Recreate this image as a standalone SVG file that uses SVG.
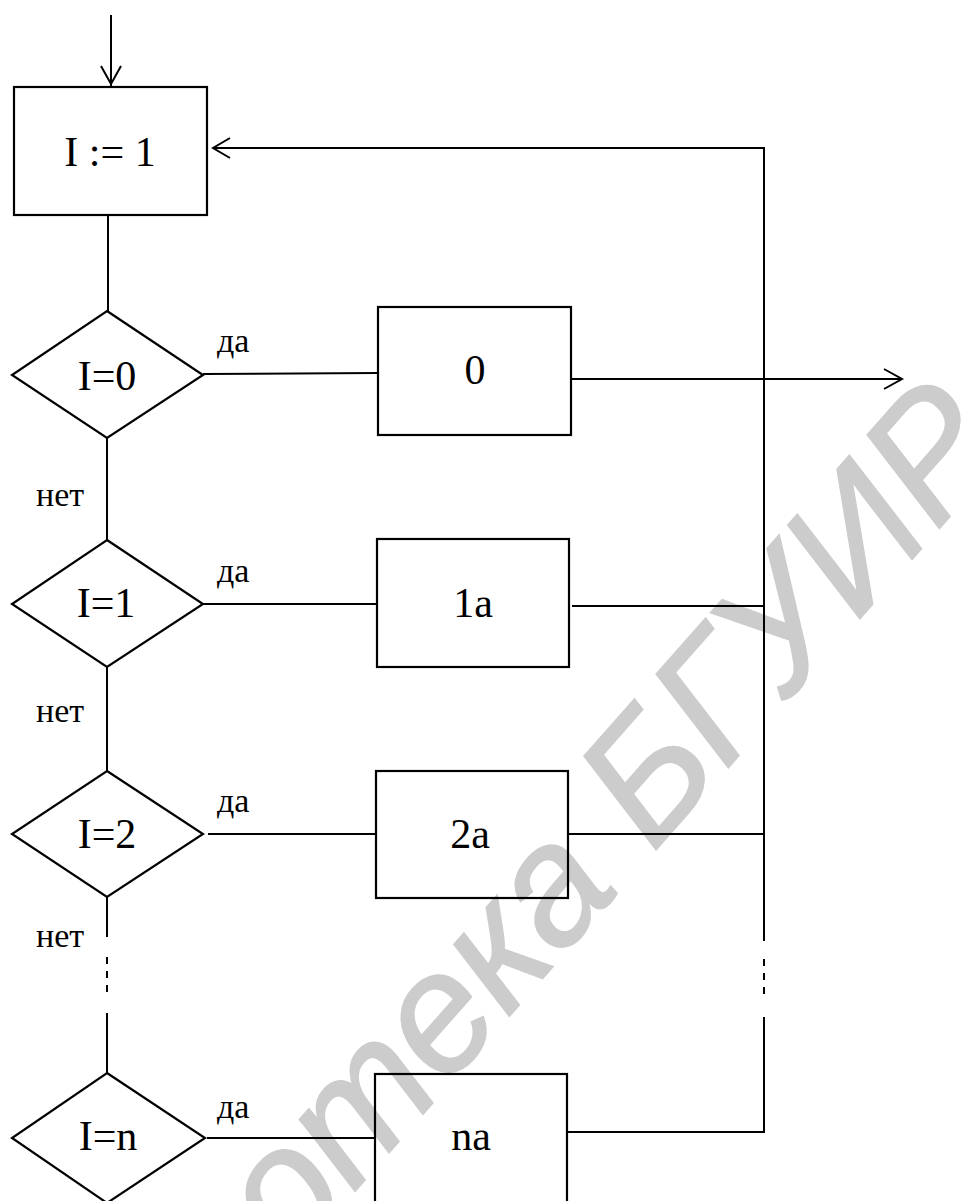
<svg xmlns="http://www.w3.org/2000/svg" width="971" height="1201" viewBox="0 0 971 1201">
<style>
.box{fill:none;stroke:#000;stroke-width:2.2}
.ln{fill:none;stroke:#000;stroke-width:2}
.lbl{font-size:42px;fill:#000;text-anchor:middle}
.sm{font-size:34px;fill:#000}
.wm{font-size:168px;fill:#cccccc;stroke:#cccccc;stroke-width:2;text-anchor:end}
</style>
<rect width="971" height="1201" fill="#fff"/>
<text class="wm" font-family="Liberation Sans, Arial, sans-serif" font-style="italic" transform="translate(1010,448) rotate(-48.6)">Библиотека БГУИР</text>
<g id="connectors">
<line class="ln" x1="111" y1="15" x2="111" y2="86"/>
<polyline class="ln" points="101,66 111,84 121,66"/>
<line class="ln" x1="108" y1="215" x2="108" y2="311"/>
<line class="ln" x1="203" y1="374" x2="378" y2="373"/>
<line class="ln" x1="571" y1="379" x2="902" y2="379"/>
<polyline class="ln" points="884,369 902,379 884,389"/>
<line class="ln" x1="107" y1="438" x2="107" y2="540"/>
<line class="ln" x1="203" y1="604" x2="377" y2="604"/>
<line class="ln" x1="572" y1="606" x2="764" y2="606"/>
<line class="ln" x1="107" y1="667" x2="107" y2="771"/>
<line class="ln" x1="208" y1="834" x2="376" y2="834"/>
<line class="ln" x1="568" y1="834" x2="764" y2="834"/>
<line class="ln" x1="107" y1="897" x2="107" y2="937"/>
<line class="ln" x1="107" y1="957" x2="107" y2="992" stroke-dasharray="7,7"/>
<line class="ln" x1="107" y1="1013" x2="107" y2="1073"/>
<line class="ln" x1="207" y1="1138" x2="375" y2="1138"/>
<polyline class="ln" points="567,1132 764,1132 764,1017"/>
<line class="ln" x1="764" y1="959" x2="764" y2="994" stroke-dasharray="7,7"/>
<polyline class="ln" points="764,941 764,148 213,148"/>
<polyline class="ln" points="230,138 213,148 230,158"/>
</g>
<g id="labels" font-family="Liberation Serif, Times New Roman, serif">
<text class="sm" x="217" y="352">да</text>
<text class="sm" x="217" y="582">да</text>
<text class="sm" x="217" y="812">да</text>
<text class="sm" x="217" y="1118">да</text>
<text class="sm" x="36" y="506">нет</text>
<text class="sm" x="36" y="722">нет</text>
<text class="sm" x="36" y="947">нет</text>
</g>
<g font-family="Liberation Serif, Times New Roman, serif">
<g id="start">
<rect class="box" x="14" y="87" width="193" height="128"/>
<text class="lbl" x="110" y="166" font-size="38">I := 1</text>
</g>
<g id="cond0">
<polygon class="box" points="107,311 203,375 107,438 12,375"/>
<text class="lbl" x="107" y="390">I=0</text>
</g>
<g id="act0">
<rect class="box" x="378" y="307" width="193" height="128"/>
<text class="lbl" x="475" y="384">0</text>
</g>
<g id="cond1">
<polygon class="box" points="107,540 203,604 107,667 12,604"/>
<text class="lbl" x="106" y="617">I=1</text>
</g>
<g id="act1">
<rect class="box" x="377" y="539" width="192" height="128"/>
<text class="lbl" x="473" y="617">1a</text>
</g>
<g id="cond2">
<polygon class="box" points="107,771 203,834 107,897 12,834"/>
<text class="lbl" x="107" y="848">I=2</text>
</g>
<g id="act2">
<rect class="box" x="376" y="771" width="192" height="127"/>
<text class="lbl" x="470" y="848">2a</text>
</g>
<g id="condn">
<polygon class="box" points="107,1073 205,1138 107,1203 12,1138"/>
<text class="lbl" x="108" y="1150">I=n</text>
</g>
<g id="actn">
<rect class="box" x="375" y="1074" width="192" height="140"/>
<text class="lbl" x="471" y="1150">na</text>
</g>
</g>
</svg>
